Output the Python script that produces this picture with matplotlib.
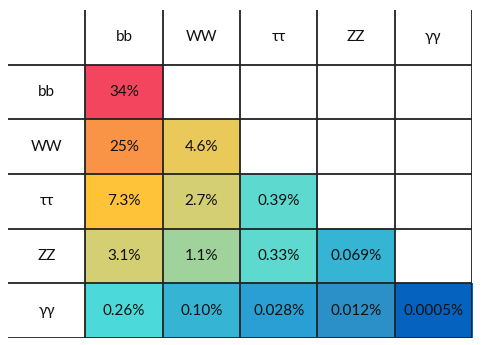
import numpy as np
import matplotlib
matplotlib.use('Agg')
import matplotlib.pyplot as plt
from matplotlib.colors import to_rgba

plt.rcParams['font.family'] = ['Lato', 'DejaVu Sans']

channels = ['bb', 'WW', 'ττ', 'ZZ', 'γγ']

# lower triangle, row by row
labels = [
    ['34%'],
    ['25%', '4.6%'],
    ['7.3%', '2.7%', '0.39%'],
    ['3.1%', '1.1%', '0.33%', '0.069%'],
    ['0.26%', '0.10%', '0.028%', '0.012%', '0.0005%'],
]
colors = [
    ['#f4455e'],
    ['#f99446', '#e8c95a'],
    ['#ffc33a', '#d4cf72', '#5dd9cf'],
    ['#d4cf72', '#a0d29c', '#5dd9cf', '#35b4d4'],
    ['#4cd9d9', '#35b4d4', '#2a9fd3', '#2a90c7', '#0563bf'],
]

n = len(channels) + 1
img = np.ones((n, n, 4))
for i, row in enumerate(colors):
    for j, c in enumerate(row):
        img[i + 1, j + 1] = to_rgba(c)

fig = plt.figure(figsize=(4.82, 3.45), dpi=100)
ax = fig.add_axes([8 / 482, 1 - 338 / 345, 464 / 482, 328 / 345])
ax.imshow(img, extent=(0, n, n, 0), aspect='auto', interpolation='nearest')
ax.set_xlim(0, n)
ax.set_ylim(n, 0)
ax.axis('off')

lc = '#222222'
for k in range(1, n + 1):
    ax.plot([0, n], [k, k], color=lc, lw=1.3, solid_capstyle='butt')
    ax.plot([k, k], [0, n], color=lc, lw=1.3, solid_capstyle='butt')

fs = 11
for k, name in enumerate(channels):
    ax.text(k + 1.5, 0.5, name, ha='center', va='center', fontsize=fs, color='#111111')
    ax.text(0.5, k + 1.5, name, ha='center', va='center', fontsize=fs, color='#111111')

for i, row in enumerate(labels):
    for j, s in enumerate(row):
        ax.text(j + 1.5, i + 1.5, s, ha='center', va='center', fontsize=fs, color='#111111')

fig.savefig('out.png', dpi=100)
